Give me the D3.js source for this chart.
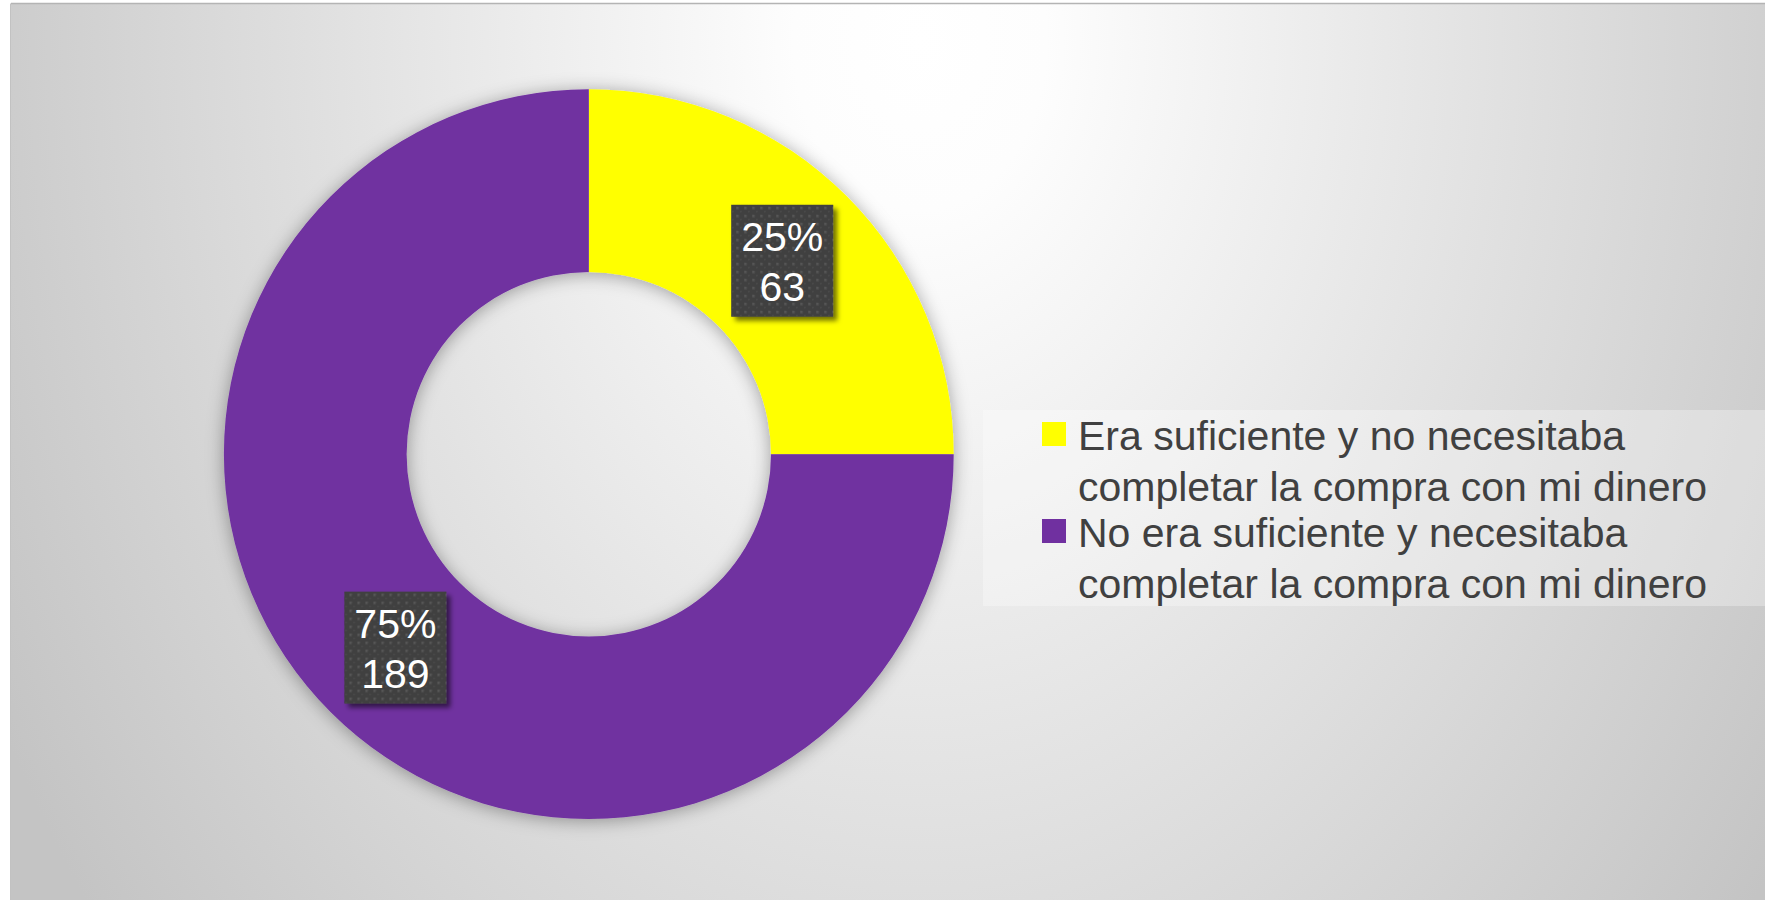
<!DOCTYPE html>
<html>
<head>
<meta charset="utf-8">
<script src="https://cdn.jsdelivr.net/npm/d3@7"></script>
<style>
  html, body { margin: 0; padding: 0; background: #ffffff; }
</style>
</head>
<body>
<div class="chart"></div>
<script>
var w = 1765;
var h = 900;

// data
var categories = [
	"Era suficiente y no necesitaba completar la compra con mi dinero",
	"No era suficiente y necesitaba completar la compra con mi dinero"
];
var legendLines = [
	["Era suficiente y no necesitaba", "completar la compra con mi dinero"],
	["No era suficiente y necesitaba", "completar la compra con mi dinero"]
];
var values = [63, 189];
var colors = ["#ffff00", "#7030a0"];

var colorText = "#404040";
var fontFamily = "'Liberation Sans', Arial, sans-serif";

var svg = d3.select(".chart")
	.append("svg")
	.attr("width", w)
	.attr("height", h);

var defs = svg.append("defs");

// chart area background
var bg = defs.append("radialGradient")
	.attr("id", "bgGrad")
	.attr("gradientUnits", "userSpaceOnUse")
	.attr("cx", 920)
	.attr("cy", 40)
	.attr("r", 1050)
	.attr("gradientTransform", "translate(920,40) scale(1,1.35) translate(-920,-40)");
bg.append("stop").attr("offset", "0").attr("stop-color", "#ffffff");
bg.append("stop").attr("offset", "0.12").attr("stop-color", "#fdfdfd");
bg.append("stop").attr("offset", "1").attr("stop-color", "#c4c4c4");

var shadow = defs.append("filter")
	.attr("id", "donutShadow")
	.attr("x", "-20%").attr("y", "-20%")
	.attr("width", "140%").attr("height", "140%");
shadow.append("feDropShadow")
	.attr("dx", 0)
	.attr("dy", 2)
	.attr("stdDeviation", 9)
	.attr("flood-color", "#000000")
	.attr("flood-opacity", 0.35);

var boxShadow = defs.append("filter")
	.attr("id", "boxShadow")
	.attr("x", "-20%").attr("y", "-20%")
	.attr("width", "150%").attr("height", "150%");
boxShadow.append("feDropShadow")
	.attr("dx", 4)
	.attr("dy", 4)
	.attr("stdDeviation", 2.5)
	.attr("flood-color", "#000000")
	.attr("flood-opacity", 0.55);

var dots = defs.append("pattern")
	.attr("id", "dots")
	.attr("patternUnits", "userSpaceOnUse")
	.attr("width", 8)
	.attr("height", 8);
dots.append("rect").attr("width", 8).attr("height", 8).attr("fill", "#404040");
dots.append("rect").attr("x", 2).attr("y", 2).attr("width", 2.5).attr("height", 2.5).attr("fill", "#565656");
dots.append("rect").attr("x", 6).attr("y", 6).attr("width", 1.5).attr("height", 1.5).attr("fill", "#4c4c4c");

svg.append("rect")
	.attr("x", 11)
	.attr("y", 4)
	.attr("width", w - 11)
	.attr("height", h - 4)
	.attr("fill", "url(#bgGrad)");

svg.append("line")
	.attr("x1", 11).attr("y1", 3.5)
	.attr("x2", w).attr("y2", 3.5)
	.attr("stroke", "#b4b4b4")
	.attr("stroke-width", 1.5);

svg.append("line")
	.attr("x1", 10.5).attr("y1", 3.5)
	.attr("x2", 10.5).attr("y2", h)
	.attr("stroke", "#c2c2c2")
	.attr("stroke-width", 1);

// donut
var cx = 588.8;
var cy = 454.2;
var outerR = 364.9;
var innerR = 182.2;

var pie = d3.pie()
	.sort(null)
	.value(function(d){ return d; });

var arc = d3.arc()
	.innerRadius(innerR)
	.outerRadius(outerR);

var arcs = pie(values);
var total = d3.sum(values);

var donut = svg.append("g")
	.attr("transform", "translate(" + cx + "," + cy + ")")
	.attr("filter", "url(#donutShadow)");

donut.selectAll("path")
	.data(arcs)
	.enter()
	.append("path")
	.attr("d", arc)
	.attr("fill", function(d, i){ return colors[i]; });

// data labels
var labels = svg.append("g")
	.attr("transform", "translate(" + cx + "," + cy + ")");

arcs.forEach(function(d, i){
	var c = arc.centroid(d);
	var g = labels.append("g")
		.attr("transform", "translate(" + c[0] + "," + c[1] + ")");
	var box = g.append("rect")
		.attr("fill", "url(#dots)")
		.attr("filter", "url(#boxShadow)");
	var t1 = g.append("text")
		.attr("x", 0)
		.attr("y", -10)
		.attr("text-anchor", "middle")
		.attr("font-family", fontFamily)
		.attr("font-size", 41)
		.attr("fill", "#ffffff")
		.text(Math.round(values[i] / total * 100) + "%");
	var t2 = g.append("text")
		.attr("x", 0)
		.attr("y", 40.5)
		.attr("text-anchor", "middle")
		.attr("font-family", fontFamily)
		.attr("font-size", 41)
		.attr("fill", "#ffffff")
		.text(values[i]);
	var tw = Math.max(t1.node().getComputedTextLength(), t2.node().getComputedTextLength());
	box.attr("x", -tw / 2 - 10)
		.attr("y", -56)
		.attr("width", tw + 20)
		.attr("height", 112);
});

// legend
svg.append("rect")
	.attr("x", 983)
	.attr("y", 410)
	.attr("width", w - 983)
	.attr("height", 196)
	.attr("fill", "#ffffff")
	.attr("fill-opacity", 0.3);

var legendY = [450, 547];
var legend = svg.append("g");
categories.forEach(function(name, i){
	var item = legend.append("g");
	item.append("rect")
		.attr("x", 1042)
		.attr("y", legendY[i] - 28)
		.attr("width", 24)
		.attr("height", 24)
		.attr("fill", colors[i]);
	var txt = item.append("text")
		.attr("font-family", fontFamily)
		.attr("font-size", 41)
		.attr("fill", colorText);
	legendLines[i].forEach(function(line, j){
		txt.append("tspan")
			.attr("x", 1078)
			.attr("y", legendY[i] + j * 51)
			.text(line);
	});
	item.append("title").text(name);
});
</script>
</body>
</html>
